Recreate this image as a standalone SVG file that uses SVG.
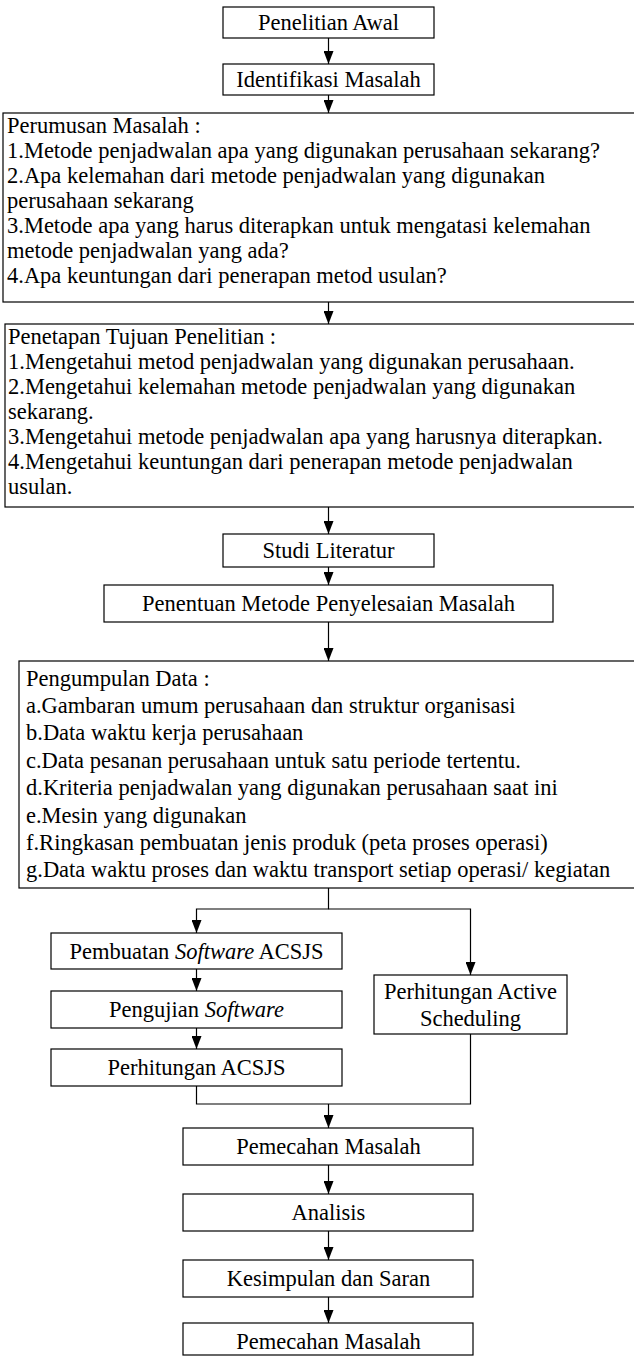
<svg xmlns="http://www.w3.org/2000/svg" width="634" height="1357" viewBox="0 0 634 1357">
<style>
.box{fill:#fff;stroke:#000;stroke-width:1.2}
.t{font-family:"Liberation Serif","Times New Roman",serif;font-size:22.5px;fill:#000}
.c{text-anchor:middle}
.i{font-style:italic}
.conn{fill:none;stroke:#000;stroke-width:1.2}
</style>
<defs>
<marker id="ah" markerUnits="userSpaceOnUse" viewBox="0 0 13 10" markerWidth="13" markerHeight="10" refX="13" refY="5" orient="auto">
<path d="M0,0 L13,5 L0,10 z" fill="#000"/>
</marker>
</defs>
<rect width="634" height="1357" fill="#fff"/>

<g id="connectors">
<path class="conn" d="M328.5,38 V64" marker-end="url(#ah)"/>
<path class="conn" d="M328.5,95 V113" marker-end="url(#ah)"/>
<path class="conn" d="M328.5,302 V324" marker-end="url(#ah)"/>
<path class="conn" d="M328.5,507 V534" marker-end="url(#ah)"/>
<path class="conn" d="M328.5,567 V585" marker-end="url(#ah)"/>
<path class="conn" d="M328.5,622 V661" marker-end="url(#ah)"/>
<path class="conn" d="M328.5,888 V909 H196.5 V933" marker-end="url(#ah)"/>
<path class="conn" d="M328.5,909 H470.5 V975" marker-end="url(#ah)"/>
<path class="conn" d="M196.5,969 V991" marker-end="url(#ah)"/>
<path class="conn" d="M196.5,1028 V1049" marker-end="url(#ah)"/>
<path class="conn" d="M196.5,1086 V1104 H470.5 V1034"/>
<path class="conn" d="M328.5,1104 V1128" marker-end="url(#ah)"/>
<path class="conn" d="M328.5,1165 V1194" marker-end="url(#ah)"/>
<path class="conn" d="M328.5,1231 V1260" marker-end="url(#ah)"/>
<path class="conn" d="M328.5,1297 V1323" marker-end="url(#ah)"/>
</g>

<g id="penelitian-awal">
<rect class="box" x="223" y="7" width="211" height="31"/>
<text class="t c" x="328.5" y="30">Penelitian Awal</text>
</g>
<g id="identifikasi-masalah">
<rect class="box" x="223" y="64" width="211" height="31"/>
<text class="t c" x="328.5" y="87">Identifikasi Masalah</text>
</g>
<g id="perumusan-masalah">
<rect class="box" x="3" y="113" width="660" height="189"/>
<text class="t" x="7" y="132.5">Perumusan Masalah :</text>
<text class="t" x="7" y="157.5">1.Metode penjadwalan apa yang digunakan perusahaan sekarang?</text>
<text class="t" x="7" y="182.5">2.Apa kelemahan dari metode penjadwalan yang digunakan</text>
<text class="t" x="7" y="207.5">perusahaan sekarang</text>
<text class="t" x="7" y="232.5">3.Metode apa yang harus diterapkan untuk mengatasi kelemahan</text>
<text class="t" x="7" y="257.5">metode penjadwalan yang ada?</text>
<text class="t" x="7" y="282.5">4.Apa keuntungan dari penerapan metod usulan?</text>
</g>
<g id="penetapan-tujuan">
<rect class="box" x="5" y="324" width="660" height="183"/>
<text class="t" x="8" y="344">Penetapan Tujuan Penelitian :</text>
<text class="t" x="8" y="369">1.Mengetahui metod penjadwalan yang digunakan perusahaan.</text>
<text class="t" x="8" y="394">2.Mengetahui kelemahan metode penjadwalan yang digunakan</text>
<text class="t" x="8" y="419">sekarang.</text>
<text class="t" x="8" y="444">3.Mengetahui metode penjadwalan apa yang harusnya diterapkan.</text>
<text class="t" x="8" y="469">4.Mengetahui keuntungan dari penerapan metode penjadwalan</text>
<text class="t" x="8" y="494">usulan.</text>
</g>
<g id="studi-literatur">
<rect class="box" x="223" y="534" width="211" height="33"/>
<text class="t c" x="328.5" y="558">Studi Literatur</text>
</g>
<g id="penentuan-metode">
<rect class="box" x="104" y="585" width="449" height="37"/>
<text class="t c" x="328.5" y="611">Penentuan Metode Penyelesaian Masalah</text>
</g>
<g id="pengumpulan-data">
<rect class="box" x="19" y="661" width="650" height="227"/>
<text class="t" x="26" y="685.5">Pengumpulan Data :</text>
<text class="t" x="26" y="712.9">a.Gambaran umum perusahaan dan struktur organisasi</text>
<text class="t" x="26" y="740.3">b.Data waktu kerja perusahaan</text>
<text class="t" x="26" y="767.7">c.Data pesanan perusahaan untuk satu periode tertentu.</text>
<text class="t" x="26" y="795.1">d.Kriteria penjadwalan yang digunakan perusahaan saat ini</text>
<text class="t" x="26" y="822.5">e.Mesin yang digunakan</text>
<text class="t" x="26" y="849.9">f.Ringkasan pembuatan jenis produk (peta proses operasi)</text>
<text class="t" x="26" y="877.3">g.Data waktu proses dan waktu transport setiap operasi/ kegiatan</text>
</g>
<g id="pembuatan-software">
<rect class="box" x="51" y="933" width="291" height="36"/>
<text class="t c" x="196.5" y="958.5">Pembuatan <tspan class="i">Software</tspan> ACSJS</text>
</g>
<g id="pengujian-software">
<rect class="box" x="51" y="991" width="291" height="37"/>
<text class="t c" x="196.5" y="1017">Pengujian <tspan class="i">Software</tspan></text>
</g>
<g id="perhitungan-acsjs">
<rect class="box" x="51" y="1049" width="291" height="37"/>
<text class="t c" x="196.5" y="1075">Perhitungan ACSJS</text>
</g>
<g id="perhitungan-active">
<rect class="box" x="374" y="975" width="193" height="59"/>
<text class="t c" x="470.5" y="999">Perhitungan Active</text>
<text class="t c" x="470.5" y="1026">Scheduling</text>
</g>
<g id="pemecahan-masalah-1">
<rect class="box" x="183" y="1128" width="290" height="37"/>
<text class="t c" x="328.5" y="1154">Pemecahan Masalah</text>
</g>
<g id="analisis">
<rect class="box" x="183" y="1194" width="290" height="37"/>
<text class="t c" x="328.5" y="1220">Analisis</text>
</g>
<g id="kesimpulan">
<rect class="box" x="183" y="1260" width="290" height="37"/>
<text class="t c" x="328.5" y="1286">Kesimpulan dan Saran</text>
</g>
<g id="pemecahan-masalah-2">
<rect class="box" x="183" y="1323" width="290" height="32"/>
<text class="t c" x="328.5" y="1349">Pemecahan Masalah</text>
</g>
</svg>
